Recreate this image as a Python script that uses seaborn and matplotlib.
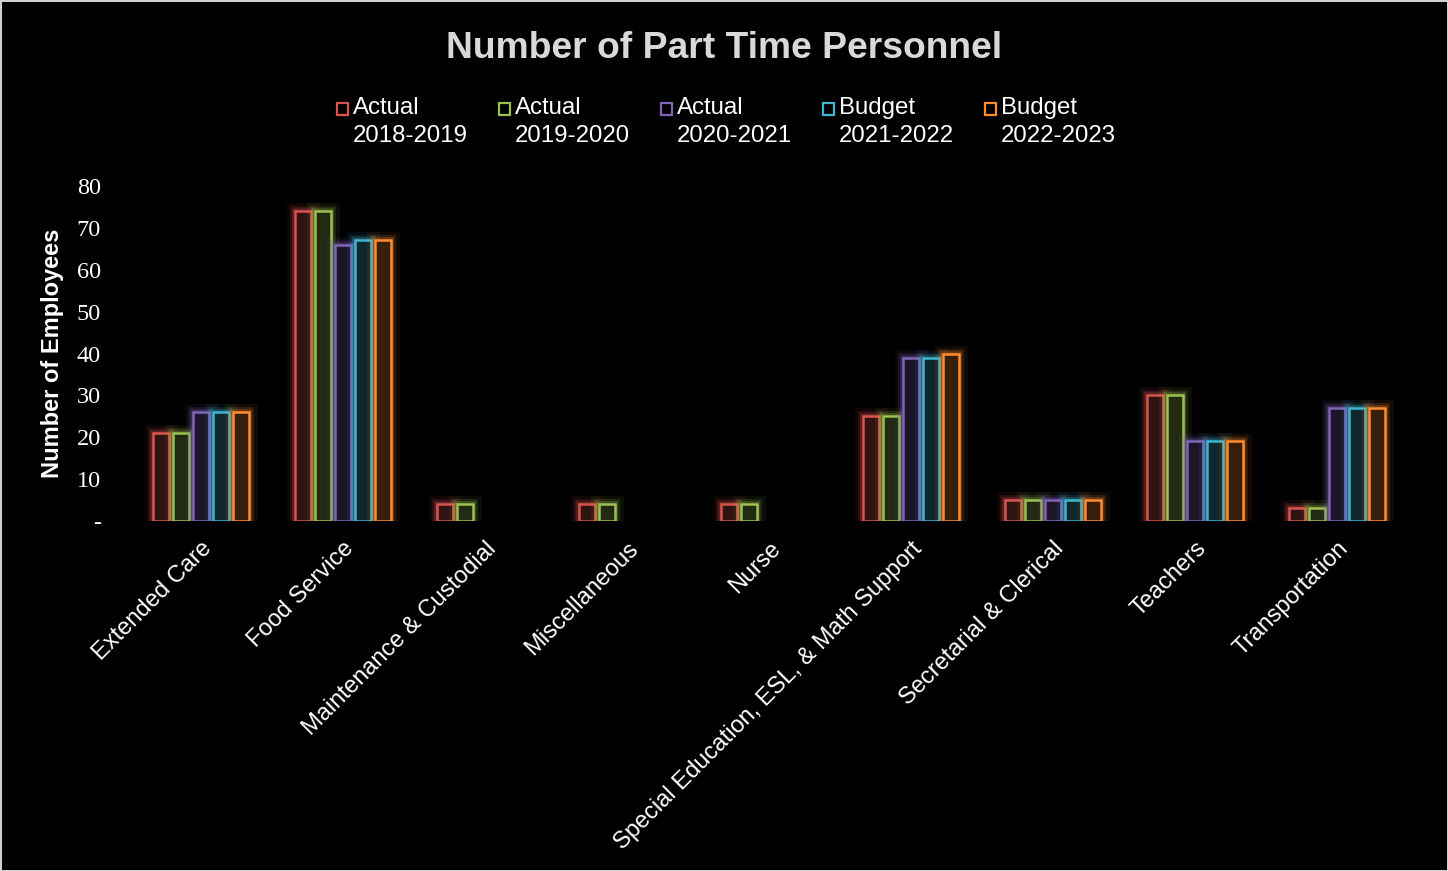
import numpy as np
import pandas as pd
import matplotlib
matplotlib.use("Agg")
import matplotlib.pyplot as plt
import matplotlib.patheffects as pe
from matplotlib.patches import Rectangle
from matplotlib.ticker import FuncFormatter
import seaborn as sns

categories = ["Extended Care", "Food Service", "Maintenance & Custodial", "Miscellaneous",
              "Nurse", "Special Education, ESL, & Math Support", "Secretarial & Clerical",
              "Teachers", "Transportation"]
series = ["Actual\n2018-2019", "Actual\n2019-2020", "Actual\n2020-2021",
          "Budget\n2021-2022", "Budget\n2022-2023"]
actual_2018 = [21, 74, 4, 4, 4, 25, 5, 30, 3]
actual_2019 = [21, 74, 4, 4, 4, 25, 5, 30, 3]
actual_2020 = [26, 66, np.nan, np.nan, np.nan, 39, 5, 19, 27]
budget_2021 = [26, 67, np.nan, np.nan, np.nan, 39, 5, 19, 27]
budget_2022 = [26, 67, np.nan, np.nan, np.nan, 40, 5, 19, 27]
colors = ["#d9534f", "#9bc24f", "#8064b8", "#3fb6d1", "#ff8c2e"]

values = [actual_2018, actual_2019, actual_2020, budget_2021, budget_2022]
rows = []
for s, vals in zip(series, values):
    for c, v in zip(categories, vals):
        rows.append({"Category": c, "Series": s, "Value": v})
df = pd.DataFrame(rows)

sns.set_theme(style="dark")
plt.rcParams['font.family'] = ['Liberation Sans', 'DejaVu Sans']

W, H = 1448, 871
fig = plt.figure(figsize=(W/100, H/100), dpi=100, facecolor="black")
fig.patch.set_edgecolor("#d0d0d0")
fig.patch.set_linewidth(2)
ax = fig.add_axes([130/W, 1-521/H, (1408-130)/W, (521-186)/H])
ax.set_facecolor("black")

sns.barplot(data=df, x="Category", y="Value", hue="Series", order=categories,
            hue_order=series, palette=colors, width=0.7, gap=0.2, ax=ax,
            legend=False, errorbar=None)

# style bars: dark fill, coloured outline with glow
for cont, col in zip(ax.containers, colors):
    for bar in cont:
        if np.isnan(bar.get_height()):
            continue
        rgb = matplotlib.colors.to_rgb(col)
        bar.set_facecolor((rgb[0]*0.22, rgb[1]*0.22, rgb[2]*0.22, 1.0))
        bar.set_edgecolor(col)
        bar.set_linewidth(1.8)
        bar.set_path_effects([
            pe.Stroke(linewidth=12, foreground=col, alpha=0.08),
            pe.Stroke(linewidth=7, foreground=col, alpha=0.15),
            pe.Stroke(linewidth=4, foreground=col, alpha=0.25),
            pe.Normal()])

ax.set_xlim(-0.5, len(categories) - 0.5)
ax.set_ylim(0, 80)
ax.set_yticks(range(0, 81, 10))
ax.yaxis.set_major_formatter(FuncFormatter(lambda v, p: "-" if v == 0 else f"{int(v)}"))
ax.tick_params(axis="y", colors="white", labelsize=17.5, length=0, pad=21)
ax.tick_params(axis="x", colors="white", labelsize=17, length=0, pad=12)
ax.set_xticks(range(len(categories)))
ax.set_xticklabels(categories, rotation=45, ha="right", rotation_mode="anchor")
for lab in ax.get_yticklabels():
    lab.set_fontfamily("Liberation Serif")
ax.set_xlabel("")
ax.set_ylabel("Number of Employees", color="white", fontsize=17, fontweight="bold", labelpad=9)
ax.grid(False)
for sp in ax.spines.values():
    sp.set_visible(False)

fig.suptitle("Number of Part Time Personnel", color="#d9d9d9", fontsize=26.8,
             fontweight="bold", y=1-48/H, va="center")

# legend (two-line labels, marker beside the first line)
x0, step = 342, 162
for i, (s, c) in enumerate(zip(series, colors)):
    mx = x0 + i * step
    fig.patches.append(Rectangle(((mx-5)/W, 1-(109+6)/H), 11/W, 12/H, transform=fig.transFigure,
                                 facecolor="none", edgecolor=c, linewidth=1.6))
    line1, line2 = s.split("\n")
    fig.text((mx+11)/W, 1-108/H, line1, color="white", fontsize=17.3, va="center", ha="left")
    fig.text((mx+11)/W, 1-136/H, line2, color="white", fontsize=17.3, va="center", ha="left")

fig.savefig("out.png", dpi=100, facecolor="black", edgecolor=fig.get_edgecolor())
